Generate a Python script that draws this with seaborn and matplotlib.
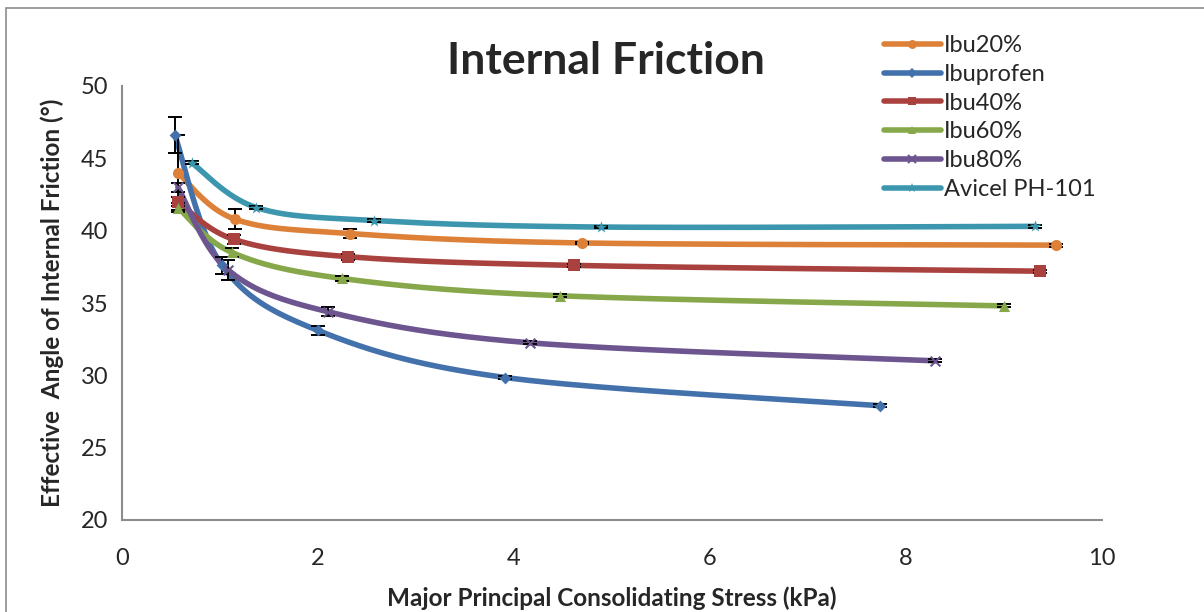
import numpy as np
import pandas as pd
import matplotlib
matplotlib.use("Agg")
import matplotlib.pyplot as plt
import seaborn as sns
from matplotlib.lines import Line2D
from matplotlib.patches import Rectangle

# ---------------- data ----------------
series_names = ["Ibu20%", "Ibuprofen", "Ibu40%", "Ibu60%", "Ibu80%", "Avicel PH-101"]

ibu20_x = [0.57, 1.15, 2.33, 4.69, 9.53]
ibu20_y = [44.0, 40.8, 39.8, 39.15, 39.0]
ibu20_err = [2.6, 0.7, 0.3, 0.1, 0.1]

ibuprofen_x = [0.54, 1.02, 2.0, 3.91, 7.73]
ibuprofen_y = [46.6, 37.6, 33.1, 29.85, 27.9]
ibuprofen_err = [1.25, 0.6, 0.3, 0.1, 0.1]

ibu40_x = [0.57, 1.14, 2.31, 4.61, 9.37]
ibu40_y = [42.0, 39.4, 38.2, 37.6, 37.2]
ibu40_err = [0.3, 0.3, 0.2, 0.1, 0.1]

ibu60_x = [0.57, 1.12, 2.24, 4.47, 9.0]
ibu60_y = [41.6, 38.5, 36.7, 35.5, 34.8]
ibu60_err = [0.3, 0.3, 0.15, 0.1, 0.1]

ibu80_x = [0.57, 1.08, 2.1, 4.16, 8.3]
ibu80_y = [43.0, 37.3, 34.4, 32.25, 31.0]
ibu80_err = [0.3, 0.7, 0.3, 0.1, 0.1]

avicel_x = [0.71, 1.37, 2.57, 4.89, 9.32]
avicel_y = [44.7, 41.6, 40.7, 40.25, 40.3]
avicel_err = [0.1, 0.1, 0.1, 0.1, 0.1]

xs = [ibu20_x, ibuprofen_x, ibu40_x, ibu60_x, ibu80_x, avicel_x]
ys = [ibu20_y, ibuprofen_y, ibu40_y, ibu60_y, ibu80_y, avicel_y]
errs = [ibu20_err, ibuprofen_err, ibu40_err, ibu60_err, ibu80_err, avicel_err]

colors = ["#DD8038", "#4371AB", "#A9423F", "#87A84A", "#6D558F", "#3C97AE"]
markers = ["o", "D", "s", "^", "x", "*"]
msizes = [8, 6, 8, 8, 7, 9]

x_ticks = [0, 2, 4, 6, 8, 10]
y_ticks = [20, 25, 30, 35, 40, 45, 50]


def smooth(x, y, n=40):
    """Excel-like smoothed line (Catmull-Rom Bezier) through the points."""
    P = np.column_stack([x, y]).astype(float)
    m = len(P)
    out = []
    t = np.linspace(0, 1, n)[:, None]
    for i in range(m - 1):
        p0 = P[max(i - 1, 0)]
        p1 = P[i]
        p2 = P[i + 1]
        p3 = P[min(i + 2, m - 1)]
        c1 = p1 + (p2 - p0) / 6.0
        c2 = p2 - (p3 - p1) / 6.0
        seg = ((1 - t) ** 3) * p1 + 3 * ((1 - t) ** 2) * t * c1 + 3 * (1 - t) * t ** 2 * c2 + t ** 3 * p2
        out.append(seg if i == 0 else seg[1:])
    out = np.vstack(out)
    return out[:, 0], out[:, 1]


# ---------------- figure ----------------
sns.set_theme(style="white")
plt.rcParams["font.family"] = ["Lato", "DejaVu Sans"]

fig = plt.figure(figsize=(12.04, 6.12), dpi=100)
ax = fig.add_axes([122 / 1204, 1 - 520 / 612, (1102 - 122) / 1204, (520 - 86) / 612])

for k, name in enumerate(series_names):
    sx, sy = smooth(xs[k], ys[k])
    curve = pd.DataFrame({"x": sx, "y": sy})
    sns.lineplot(data=curve, x="x", y="y", sort=False, ax=ax, color=colors[k],
                 linewidth=4.0, zorder=2 + k, estimator=None)
    ax.errorbar(xs[k], ys[k], yerr=errs[k], fmt="none", ecolor="black",
                elinewidth=1.4, capsize=5, capthick=1.4, zorder=20)
    pts = pd.DataFrame({"x": xs[k], "y": ys[k]})
    sns.scatterplot(data=pts, x="x", y="y", ax=ax, color=colors[k], marker=markers[k],
                    s=msizes[k] ** 2, linewidth=1.5 if markers[k] == "x" else 0,
                    edgecolor=colors[k], zorder=21 + k)

ax.set_xlim(0, 10)
ax.set_ylim(20, 50)
ax.set_xticks(x_ticks)
ax.set_yticks(y_ticks)
ax.set_xticklabels([str(v) for v in x_ticks], fontsize=17)
ax.set_yticklabels([str(v) for v in y_ticks], fontsize=17)
ax.tick_params(axis="x", pad=20, length=0)
ax.tick_params(axis="y", pad=10, length=0)

for s in ["top", "right"]:
    ax.spines[s].set_visible(False)
for s in ["left", "bottom"]:
    ax.spines[s].set_color("#8C8C8C")
    ax.spines[s].set_linewidth(1.5)

ax.set_xlabel("Major Principal Consolidating Stress (kPa)", fontsize=17.5, fontweight="bold", labelpad=13)
ax.set_ylabel("Effective  Angle of Internal Friction (°)", fontsize=17.5, fontweight="bold", labelpad=12)

fig.text(606 / 1204, 1 - 61 / 612, "Internal Friction", ha="center", va="center",
         fontsize=32, fontweight="bold")

handles = [Line2D([0], [0], color=colors[k], linewidth=4.0, marker=markers[k],
                  markersize=msizes[k] * 0.8, markeredgewidth=1.5 if markers[k] == "x" else 0,
                  markeredgecolor=colors[k])
           for k in range(len(series_names))]
fig.legend(handles, series_names, loc="upper left", bbox_to_anchor=(884 / 1204, 1 - 35 / 612),
           frameon=False, fontsize=17, handlelength=2.4, handletextpad=0.15,
           labelspacing=0.33, borderpad=0, borderaxespad=0)

fig.patches.append(Rectangle((6 / 1204, -0.05), 1.1, 1 - 8 / 612 + 0.05, transform=fig.transFigure,
                             fill=False, edgecolor="#8C8C8C", linewidth=1.2))

fig.savefig("out.png", dpi=100)
